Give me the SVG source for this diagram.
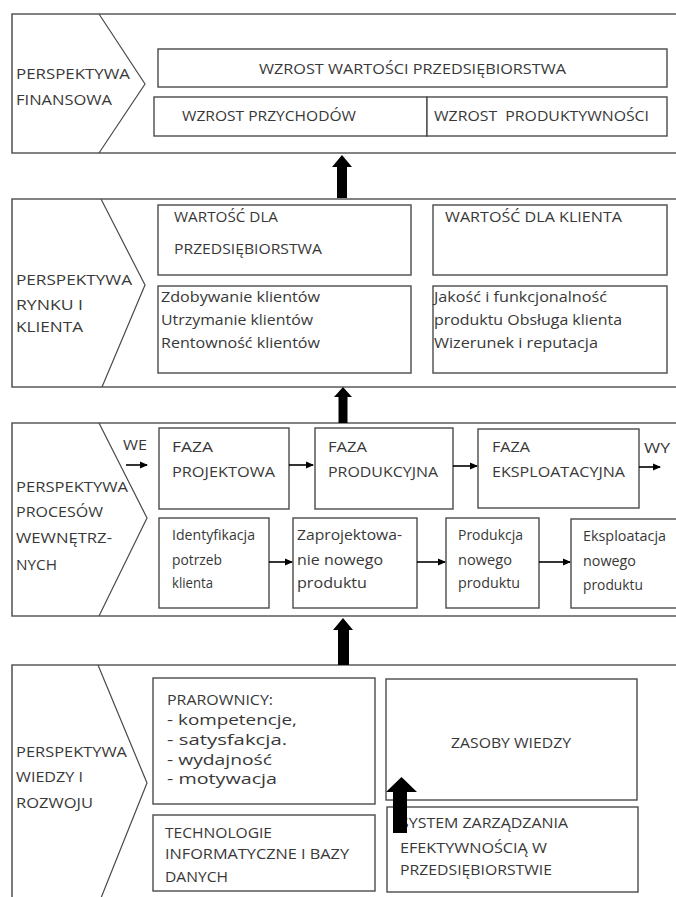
<svg xmlns="http://www.w3.org/2000/svg" width="676" height="897" viewBox="0 0 676 897">
<style>
  .outer{fill:#fff;stroke:#5a5a5a;stroke-width:1.6}
  .chev{fill:none;stroke:#4a4a4a;stroke-width:1.2}
  .box{fill:#fff;stroke:#4a4a4a;stroke-width:1.4}
  .t{font-family:"Open Sans",Lato,"Liberation Sans",sans-serif;font-size:15px;fill:#383838;white-space:pre}
  .con{stroke:#000;stroke-width:1.6;fill:none}
  .big{fill:#000}
</style>
<defs>
  <marker id="ah" markerWidth="8" markerHeight="8" refX="7" refY="4" orient="auto" markerUnits="userSpaceOnUse">
    <path d="M0,0.5 L8,4 L0,7.5 Z" fill="#000"/>
  </marker>
</defs>
<rect width="676" height="897" fill="#fff"/>

<!-- Section 1 -->
<g id="sec-fin">
  <path class="outer" d="M680,14 H12 V153 H680"/>
  <path class="chev" d="M99,14 L145,84 L99,153"/>
  <text class="t" x="16" y="79" textLength="114" lengthAdjust="spacingAndGlyphs">PERSPEKTYWA</text>
  <text class="t" x="16" y="105" textLength="96" lengthAdjust="spacingAndGlyphs">FINANSOWA</text>
</g>
<g id="n-wzrost-wartosci">
  <rect class="box" x="158" y="49" width="509" height="38"/>
  <text class="t" x="259" y="74" textLength="307" lengthAdjust="spacingAndGlyphs">WZROST WARTOŚCI PRZEDSIĘBIORSTWA</text>
</g>
<g id="n-wzrost-przych">
  <rect class="box" x="154" y="97" width="273" height="39"/>
  <text class="t" x="182" y="121" textLength="174" lengthAdjust="spacingAndGlyphs">WZROST PRZYCHODÓW</text>
</g>
<g id="n-wzrost-prod">
  <rect class="box" x="427" y="97" width="240" height="39"/>
  <text class="t" x="434" y="121" textLength="215" lengthAdjust="spacingAndGlyphs">WZROST  PRODUKTYWNOŚCI</text>
</g>

<!-- Section 2 -->
<g id="sec-rynek">
  <path class="outer" d="M680,199 H12 V387 H680"/>
  <path class="chev" d="M101,199 L145,285 L102,387"/>
  <text class="t" x="16" y="285" textLength="116" lengthAdjust="spacingAndGlyphs">PERSPEKTYWA</text>
  <text class="t" x="16" y="310" textLength="67" lengthAdjust="spacingAndGlyphs">RYNKU I</text>
  <text class="t" x="16" y="332" textLength="67" lengthAdjust="spacingAndGlyphs">KLIENTA</text>
</g>
<g id="n-wart-przeds">
  <rect class="box" x="158" y="205" width="253" height="70"/>
  <text class="t" x="174" y="222" textLength="104" lengthAdjust="spacingAndGlyphs">WARTOŚĆ DLA</text>
  <text class="t" x="174" y="254" textLength="148" lengthAdjust="spacingAndGlyphs">PRZEDSIĘBIORSTWA</text>
</g>
<g id="n-wart-klienta">
  <rect class="box" x="433" y="205" width="234" height="70"/>
  <text class="t" x="445" y="222" textLength="177" lengthAdjust="spacingAndGlyphs">WARTOŚĆ DLA KLIENTA</text>
</g>
<g id="n-klienci">
  <rect class="box" x="158" y="286" width="253" height="87"/>
  <text class="t" x="161" y="302" textLength="159" lengthAdjust="spacingAndGlyphs">Zdobywanie klientów</text>
  <text class="t" x="161" y="325" textLength="152" lengthAdjust="spacingAndGlyphs">Utrzymanie klientów</text>
  <text class="t" x="161" y="348" textLength="159" lengthAdjust="spacingAndGlyphs">Rentowność klientów</text>
</g>
<g id="n-jakosc">
  <rect class="box" x="433" y="286" width="234" height="87"/>
  <text class="t" x="434" y="302" textLength="173" lengthAdjust="spacingAndGlyphs">Jakość i funkcjonalność</text>
  <text class="t" x="434" y="325" textLength="188" lengthAdjust="spacingAndGlyphs">produktu Obsługa klienta</text>
  <text class="t" x="434" y="348" textLength="164" lengthAdjust="spacingAndGlyphs">Wizerunek i reputacja</text>
</g>

<!-- Section 3 -->
<g id="sec-procesy">
  <path class="outer" d="M680,423 H12 V616 H680"/>
  <path class="chev" d="M99,423 L147,518 L99,616"/>
  <text class="t" x="16" y="492" textLength="112" lengthAdjust="spacingAndGlyphs">PERSPEKTYWA</text>
  <text class="t" x="16" y="517" textLength="87" lengthAdjust="spacingAndGlyphs">PROCESÓW</text>
  <text class="t" x="16" y="543" textLength="96" lengthAdjust="spacingAndGlyphs">WEWNĘTRZ-</text>
  <text class="t" x="16" y="570" textLength="41" lengthAdjust="spacingAndGlyphs">NYCH</text>
  <text class="t" x="123" y="450" textLength="24" lengthAdjust="spacingAndGlyphs">WE</text>
  <text class="t" x="644" y="453" textLength="26" lengthAdjust="spacingAndGlyphs">WY</text>
</g>
<g id="n-faza-proj">
  <rect class="box" x="159" y="428" width="130" height="81"/>
  <text class="t" x="172" y="452" textLength="41" lengthAdjust="spacingAndGlyphs">FAZA</text>
  <text class="t" x="172" y="477" textLength="103" lengthAdjust="spacingAndGlyphs">PROJEKTOWA</text>
</g>
<g id="n-faza-prod">
  <rect class="box" x="315" y="428" width="138" height="81"/>
  <text class="t" x="328" y="452" textLength="39" lengthAdjust="spacingAndGlyphs">FAZA</text>
  <text class="t" x="328" y="477" textLength="110" lengthAdjust="spacingAndGlyphs">PRODUKCYJNA</text>
</g>
<g id="n-faza-eksp">
  <rect class="box" x="478" y="429" width="161" height="79"/>
  <text class="t" x="492" y="452" textLength="38" lengthAdjust="spacingAndGlyphs">FAZA</text>
  <text class="t" x="492" y="477" textLength="133" lengthAdjust="spacingAndGlyphs">EKSPLOATACYJNA</text>
</g>
<g id="n-identyfikacja">
  <rect class="box" x="159" y="518" width="110" height="90"/>
  <text class="t" x="172" y="540" textLength="83" lengthAdjust="spacingAndGlyphs">Identyfikacja</text>
  <text class="t" x="172" y="565" textLength="50" lengthAdjust="spacingAndGlyphs">potrzeb</text>
  <text class="t" x="172" y="588" textLength="41" lengthAdjust="spacingAndGlyphs">klienta</text>
</g>
<g id="n-zaprojektowanie">
  <rect class="box" x="293" y="518" width="124" height="90"/>
  <text class="t" x="297" y="540" textLength="105" lengthAdjust="spacingAndGlyphs">Zaprojektowa-</text>
  <text class="t" x="297" y="565" textLength="86" lengthAdjust="spacingAndGlyphs">nie nowego</text>
  <text class="t" x="297" y="588" textLength="70" lengthAdjust="spacingAndGlyphs">produktu</text>
</g>
<g id="n-produkcja">
  <rect class="box" x="446" y="518" width="93" height="90"/>
  <text class="t" x="458" y="540" textLength="65" lengthAdjust="spacingAndGlyphs">Produkcja</text>
  <text class="t" x="458" y="565" textLength="54" lengthAdjust="spacingAndGlyphs">nowego</text>
  <text class="t" x="458" y="588" textLength="62" lengthAdjust="spacingAndGlyphs">produktu</text>
</g>
<g id="n-eksploatacja">
  <rect class="box" x="571" y="519" width="110" height="89"/>
  <text class="t" x="583" y="541" textLength="83" lengthAdjust="spacingAndGlyphs">Eksploatacja</text>
  <text class="t" x="583" y="566" textLength="53" lengthAdjust="spacingAndGlyphs">nowego</text>
  <text class="t" x="583" y="590" textLength="60" lengthAdjust="spacingAndGlyphs">produktu</text>
</g>

<!-- Section 4 -->
<g id="sec-wiedza">
  <path class="outer" d="M680,665 H12 V905"/>
  <path class="chev" d="M98,665 L147,783 L99,903"/>
  <text class="t" x="16" y="757" textLength="111" lengthAdjust="spacingAndGlyphs">PERSPEKTYWA</text>
  <text class="t" x="16" y="782" textLength="67" lengthAdjust="spacingAndGlyphs">WIEDZY I</text>
  <text class="t" x="16" y="808" textLength="77" lengthAdjust="spacingAndGlyphs">ROZWOJU</text>
</g>
<g id="n-pracownicy">
  <rect class="box" x="153" y="678" width="222" height="126"/>
  <text class="t" x="167" y="705" textLength="106" lengthAdjust="spacingAndGlyphs">PRAROWNICY:</text>
  <text class="t" x="167" y="725" textLength="130" lengthAdjust="spacingAndGlyphs">- kompetencje,</text>
  <text class="t" x="167" y="745" textLength="120" lengthAdjust="spacingAndGlyphs">- satysfakcja.</text>
  <text class="t" x="167" y="765" textLength="105" lengthAdjust="spacingAndGlyphs">- wydajność</text>
  <text class="t" x="167" y="784" textLength="110" lengthAdjust="spacingAndGlyphs">- motywacja</text>
</g>
<g id="n-technologie">
  <rect class="box" x="153" y="815" width="222" height="76"/>
  <text class="t" x="165" y="838" textLength="107" lengthAdjust="spacingAndGlyphs">TECHNOLOGIE</text>
  <text class="t" x="165" y="859" textLength="184" lengthAdjust="spacingAndGlyphs">INFORMATYCZNE I BAZY</text>
  <text class="t" x="165" y="882" textLength="63" lengthAdjust="spacingAndGlyphs">DANYCH</text>
</g>
<g id="n-zasoby">
  <rect class="box" x="386" y="679" width="251" height="121"/>
  <text class="t" x="451" y="748" textLength="120" lengthAdjust="spacingAndGlyphs">ZASOBY WIEDZY</text>
</g>
<g id="n-system">
  <rect class="box" x="387" y="807" width="251" height="85"/>
  <text class="t" x="400" y="828" textLength="168" lengthAdjust="spacingAndGlyphs">SYSTEM ZARZĄDZANIA</text>
  <text class="t" x="400" y="853" textLength="147" lengthAdjust="spacingAndGlyphs">EFEKTYWNOŚCIĄ W</text>
  <text class="t" x="400" y="875" textLength="152" lengthAdjust="spacingAndGlyphs">PRZEDSIĘBIORSTWIE</text>
</g>

<!-- Connectors -->
<g id="connectors">
  <line class="con" x1="126" y1="465" x2="147" y2="465" marker-end="url(#ah)"/>
  <line class="con" x1="289" y1="465" x2="313" y2="465" marker-end="url(#ah)"/>
  <line class="con" x1="453" y1="466" x2="477" y2="466" marker-end="url(#ah)"/>
  <line class="con" x1="639" y1="467" x2="660" y2="467" marker-end="url(#ah)"/>
  <line class="con" x1="269" y1="562" x2="292" y2="562" marker-end="url(#ah)"/>
  <line class="con" x1="417" y1="562" x2="445" y2="562" marker-end="url(#ah)"/>
  <line class="con" x1="539" y1="562" x2="570" y2="562" marker-end="url(#ah)"/>
  <polygon class="big" points="342,155 352,167 347,167 347,198 337,198 337,167 332,167"/>
  <polygon class="big" points="343,387 352,397 347.5,397 347.5,423 338.5,423 338.5,397 334,397"/>
  <polygon class="big" points="343,618 353,630 349,630 349,665 338,665 338,630 333,630"/>
  <polygon class="big" points="401.5,777 417,792 407,792 407,833 393,833 393,792 386,792"/>
</g>
</svg>
